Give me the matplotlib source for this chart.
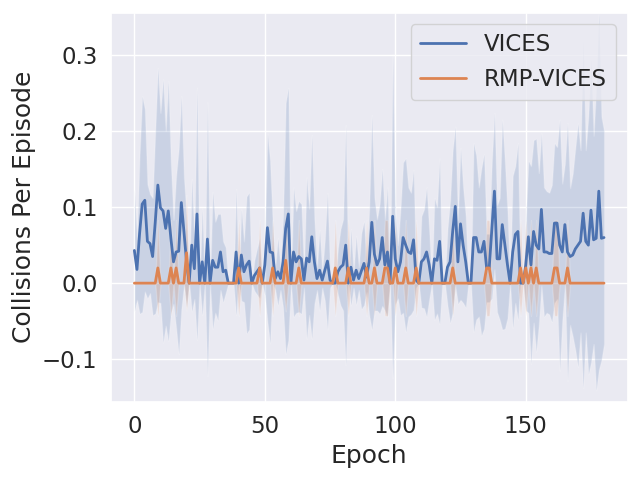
import numpy as np
import matplotlib
matplotlib.use("Agg")
import matplotlib.pyplot as plt
import seaborn as sns

# VICES: mean and std of collisions per episode, epochs 0..180
vices_mean = [
    0.043, 0.018, 0.065, 0.104, 0.109, 0.055, 0.052, 0.035, 0.080, 0.129,
    0.099, 0.095, 0.072, 0.095, 0.059, 0.028, 0.041, 0.042, 0.106, 0.068,
    0.028, 0.0, 0.050, 0.019, 0.091, 0.0, 0.028, 0.0, 0.058, 0.0,
    0.030, 0.021, 0.021, 0.041, 0.015, 0.017, 0.0, 0.0, 0.0, 0.041,
    0.0, 0.037, 0.015, 0.024, 0.029, 0.0, 0.010, 0.015, 0.020, 0.0,
    0.024, 0.073, 0.041, 0.040, 0.006, 0.015, 0.006, 0.028, 0.072, 0.091,
    0.0, 0.041, 0.028, 0.035, 0.032, 0.004, 0.033, 0.028, 0.061, 0.028,
    0.006, 0.017, 0.004, 0.017, 0.029, 0.004, 0.0, 0.0, 0.015, 0.021,
    0.024, 0.050, 0.0, 0.021, 0.004, 0.017, 0.006, 0.016, 0.026, 0.008,
    0.028, 0.080, 0.038, 0.024, 0.032, 0.060, 0.024, 0.041, 0.0, 0.088,
    0.032, 0.015, 0.028, 0.060, 0.050, 0.041, 0.039, 0.057, 0.004, 0.0,
    0.028, 0.032, 0.041, 0.024, 0.0, 0.032, 0.030, 0.055, 0.0, 0.0,
    0.021, 0.028, 0.068, 0.101, 0.028, 0.078, 0.050, 0.028, 0.0, 0.0,
    0.060, 0.060, 0.041, 0.041, 0.055, 0.020, 0.020, 0.070, 0.121, 0.032,
    0.032, 0.077, 0.050, 0.024, 0.0, 0.041, 0.064, 0.068, 0.0, 0.0,
    0.024, 0.061, 0.024, 0.068, 0.050, 0.045, 0.097, 0.041, 0.041, 0.039,
    0.039, 0.079, 0.079, 0.050, 0.041, 0.077, 0.041, 0.035, 0.037, 0.045,
    0.050, 0.055, 0.092, 0.055, 0.050, 0.096, 0.057, 0.059, 0.121, 0.059,
    0.060,
]
vices_std = [
    0.080, 0.040, 0.105, 0.142, 0.120, 0.075, 0.065, 0.077, 0.120, 0.154,
    0.125, 0.173, 0.128, 0.171, 0.098, 0.055, 0.100, 0.135, 0.140, 0.071,
    0.060, 0.0, 0.087, 0.040, 0.166, 0.0, 0.070, 0.0, 0.180, 0.0,
    0.090, 0.060, 0.070, 0.050, 0.040, 0.030, 0.0, 0.0, 0.0, 0.083,
    0.0, 0.060, 0.040, 0.090, 0.090, 0.0, 0.020, 0.030, 0.040, 0.0,
    0.040, 0.124, 0.120, 0.040, 0.015, 0.044, 0.015, 0.060, 0.165, 0.166,
    0.0, 0.085, 0.067, 0.073, 0.072, 0.010, 0.106, 0.070, 0.134, 0.055,
    0.015, 0.053, 0.010, 0.040, 0.090, 0.010, 0.0, 0.0, 0.030, 0.050,
    0.060, 0.158, 0.0, 0.050, 0.010, 0.045, 0.015, 0.050, 0.055, 0.020,
    0.070, 0.141, 0.074, 0.060, 0.072, 0.090, 0.060, 0.085, 0.0, 0.213,
    0.060, 0.035, 0.070, 0.099, 0.114, 0.085, 0.080, 0.092, 0.010, 0.0,
    0.060, 0.065, 0.085, 0.045, 0.0, 0.080, 0.070, 0.109, 0.0, 0.0,
    0.050, 0.080, 0.107, 0.105, 0.055, 0.100, 0.076, 0.060, 0.0, 0.0,
    0.124, 0.108, 0.085, 0.110, 0.115, 0.045, 0.045, 0.090, 0.103, 0.070,
    0.080, 0.138, 0.110, 0.070, 0.0, 0.100, 0.090, 0.116, 0.0, 0.0,
    0.060, 0.100, 0.130, 0.120, 0.140, 0.100, 0.100, 0.085, 0.080, 0.080,
    0.090, 0.105, 0.100, 0.165, 0.090, 0.080, 0.170, 0.090, 0.107, 0.133,
    0.160, 0.120, 0.230, 0.120, 0.170, 0.200, 0.137, 0.200, 0.235, 0.160,
    0.140,
]

# RMP-VICES is zero except at these epochs
rmp_epochs = [9, 14, 16, 20, 40, 48, 53, 58, 63, 77, 82, 89, 92, 96, 97,
              100, 104, 108, 122, 135, 136, 148, 150, 152, 154, 161, 162, 166]
rmp_vals = [0.02, 0.02, 0.02, 0.04, 0.02, 0.02, 0.02, 0.03, 0.02, 0.02,
            0.02, 0.02, 0.02, 0.02, 0.02, 0.02, 0.02, 0.02, 0.02, 0.02,
            0.02, 0.02, 0.02, 0.02, 0.02, 0.02, 0.02, 0.02]
rmp_stds = [0.063, 0.063, 0.063, 0.076, 0.063, 0.063, 0.063, 0.067, 0.063, 0.063,
            0.063, 0.063, 0.063, 0.063, 0.063, 0.063, 0.063, 0.063, 0.063, 0.063,
            0.063, 0.063, 0.063, 0.063, 0.063, 0.063, 0.063, 0.063]

epochs = np.arange(len(vices_mean))
vm = np.array(vices_mean)
vs = np.array(vices_std)
rm = np.zeros(len(epochs))
rs = np.zeros(len(epochs))
rm[rmp_epochs] = rmp_vals
rs[rmp_epochs] = rmp_stds

sns.set_theme(style="darkgrid", font_scale=1.5)

fig = plt.figure(figsize=(6.4, 4.8), dpi=100)
plt.plot(epochs, vm, label="VICES", linewidth=2)
plt.fill_between(epochs, vm - vs, vm + vs, alpha=0.2)
plt.plot(epochs, rm, label="RMP-VICES", linewidth=2)
plt.fill_between(epochs, rm - rs, rm + rs, alpha=0.2)
plt.xlabel("Epoch")
plt.ylabel("Collisions Per Episode")
plt.ylim(-0.156, 0.356)
plt.legend(loc="upper right")
plt.tight_layout(pad=0.5)
plt.savefig("out.png")
